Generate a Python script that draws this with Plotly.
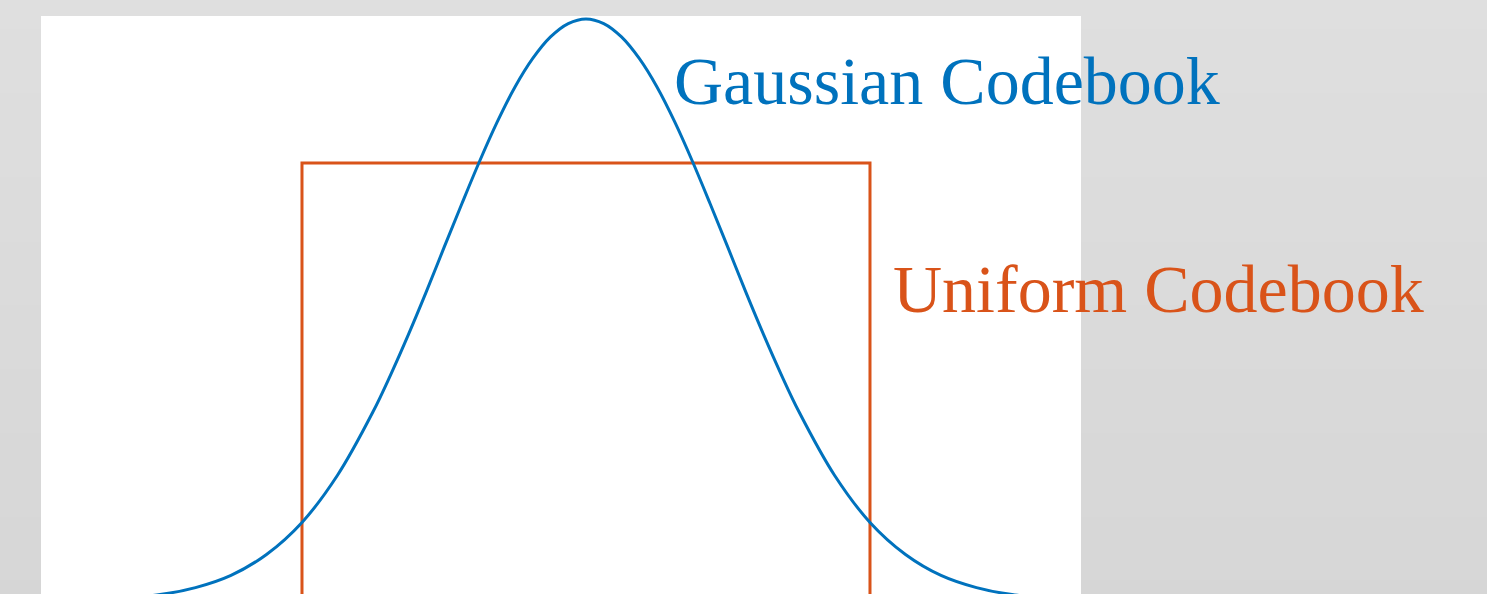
import plotly.graph_objects as go

# Gaussian codebook density (peak-normalised)
gauss_x = [-3.75, -3.5, -3.25, -3.0, -2.75, -2.5, -2.25, -2.0, -1.75, -1.5, -1.375, -1.25,
           -1.125, -1.0, -0.875, -0.75, -0.625, -0.5, -0.375, -0.25, -0.125, 0.0,
           0.125, 0.25, 0.375, 0.5, 0.625, 0.75, 0.875, 1.0, 1.125, 1.25, 1.375, 1.5,
           1.75, 2.0, 2.25, 2.5, 2.75, 3.0, 3.25, 3.5]
gauss_y = [0.001, 0.002, 0.005, 0.011, 0.023, 0.044, 0.080, 0.135, 0.216, 0.325, 0.389, 0.458,
           0.531, 0.607, 0.682, 0.755, 0.823, 0.883, 0.932, 0.969, 0.992, 1.000,
           0.992, 0.969, 0.932, 0.883, 0.823, 0.755, 0.682, 0.607, 0.531, 0.458, 0.389, 0.325,
           0.216, 0.135, 0.080, 0.044, 0.023, 0.011, 0.005, 0.002]

# Uniform codebook density (box from -2 to 2)
unif_x = [-2.0, -2.0, 2.0, 2.0]
unif_y = [0.0, 0.7526, 0.7526, 0.0]

labels = ["Gaussian Codebook", "Uniform Codebook"]
label_x = [0.606, 2.148]
label_y = [0.894, 0.536]

BLUE = "#0072BD"
ORANGE = "#D95319"

fig = go.Figure()
fig.add_trace(go.Scatter(x=unif_x, y=unif_y, mode="lines",
                         line=dict(color=ORANGE, width=3)))
fig.add_trace(go.Scatter(x=gauss_x, y=gauss_y, mode="lines",
                         line=dict(color=BLUE, width=3, shape="spline", smoothing=1.0)))

# soft vertical grey gradient over the page, with bands overlapping to avoid seams
shapes = []
n = 30
for i in range(n):
    c = round(223 - 9 * i / (n - 1))
    top = 1.05 - i * 1.1 / n
    shapes.append(dict(type="rect", xref="paper", yref="paper",
                       x0=-0.1, x1=1.7, y0=top - 1.1 / n - 0.02, y1=top,
                       fillcolor=f"rgb({c},{c},{c})", line=dict(width=0), layer="below"))
# white plotting panel on top of the gradient
shapes.append(dict(type="rect", xref="x domain", yref="y domain", x0=0, x1=1, y0=-0.02, y1=1,
                   fillcolor="white", line=dict(width=0), layer="below"))

annotations = []
for txt, ax, ay, col in zip(labels, label_x, label_y, [BLUE, ORANGE]):
    annotations.append(dict(x=ax, y=ay, xref="x", yref="y", text=txt, showarrow=False,
                            xanchor="left", yanchor="middle",
                            font=dict(family="Liberation Serif", size=68, color=col)))

fig.update_layout(
    width=1487, height=594,
    margin=dict(l=41, r=406, t=16, b=0),
    paper_bgcolor="rgb(220,220,220)",
    plot_bgcolor="white",
    showlegend=False,
    shapes=shapes,
    annotations=annotations,
    xaxis=dict(range=[-3.838, 3.486], visible=False, showgrid=False, zeroline=False),
    yaxis=dict(range=[0.012, 1.005], visible=False, showgrid=False, zeroline=False),
)

fig.write_html("out.html")
